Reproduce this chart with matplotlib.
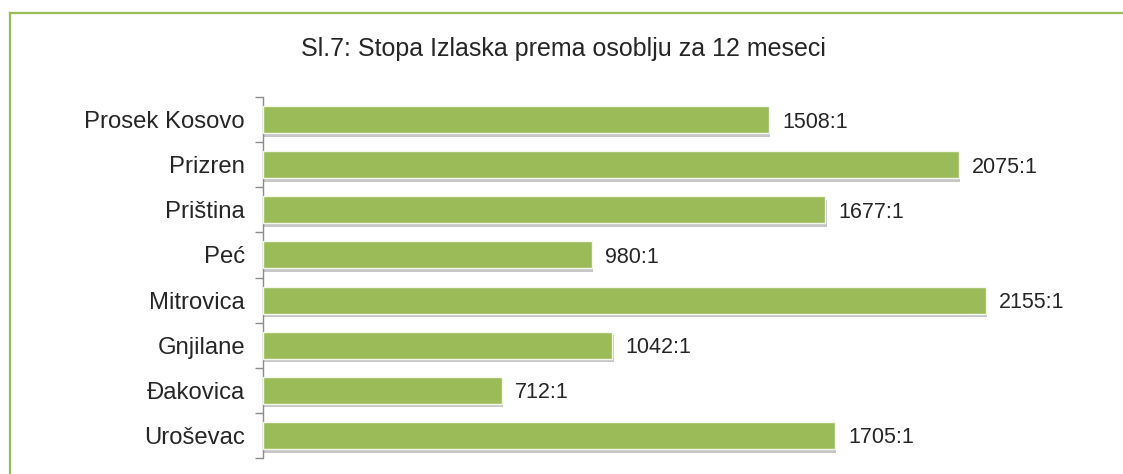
import matplotlib
matplotlib.use("Agg")
import matplotlib.pyplot as plt
from matplotlib.lines import Line2D
import matplotlib.patheffects as pe

categories = ["Prosek Kosovo", "Prizren", "Priština", "Peć", "Mitrovica",
              "Gnjilane", "Đakovica", "Uroševac"]
values = [1508, 2075, 1677, 980, 2155, 1042, 712, 1705]
value_labels = ["1508:1", "2075:1", "1677:1", "980:1", "2155:1", "1042:1", "712:1", "1705:1"]
title = "Sl.7: Stopa Izlaska prema osoblju za 12 meseci"

plt.rcParams['font.family'] = ['Liberation Sans', 'DejaVu Sans']

W, H = 1123, 474
fig = plt.figure(figsize=(W / 100, H / 100), dpi=100)
fig.patch.set_facecolor("white")

ax = fig.add_axes([263 / W, 16 / H, 838.5 / W, 361 / H])
ax.set_facecolor("none")

pos = list(range(len(categories)))
bars = ax.barh(pos, values, height=0.6, color="#9BBB59", edgecolor="#f4f8ec",
               linewidth=1.0, zorder=3)
for b in bars:
    b.set_path_effects([pe.SimplePatchShadow(offset=(0.8, -2.6), shadow_rgbFace="#000000", alpha=0.22),
                        pe.Normal()])

for p, v, lab in zip(pos, values, value_labels):
    ax.annotate(lab, xy=(v, p), xytext=(9.5, 0), textcoords="offset points",
                ha="left", va="center_baseline", fontsize=15.5, color="#262626")

ax.set_xlim(0, 2500)
ax.set_ylim(len(categories) - 0.5, -0.5)

ax.set_yticks(pos)
ax.set_yticklabels(categories, fontsize=17.2, color="#262626")
ax.tick_params(axis="y", which="major", length=0, pad=13)
ax.set_yticks([i - 0.5 for i in range(len(categories) + 1)], minor=True)
ax.tick_params(axis="y", which="minor", length=6, width=1.0, color="#8c8c8c")
ax.set_xticks([])

for s in ["top", "right", "bottom"]:
    ax.spines[s].set_visible(False)
ax.spines["left"].set_color("#8c8c8c")
ax.spines["left"].set_linewidth(1.0)

fig.text(563 / W, 1 - 56 / H, title, ha="center", va="baseline",
         fontsize=18, color="#262626")

border_color = "#9BBB59"
fig.add_artist(Line2D([9.5 / W, 1.0], [1 - 13 / H, 1 - 13 / H], transform=fig.transFigure,
                      color=border_color, linewidth=1.6))
fig.add_artist(Line2D([9.5 / W, 9.5 / W], [0.0, 1 - 13 / H], transform=fig.transFigure,
                      color=border_color, linewidth=1.6))

fig.savefig("out.png", dpi=100, facecolor="white")
